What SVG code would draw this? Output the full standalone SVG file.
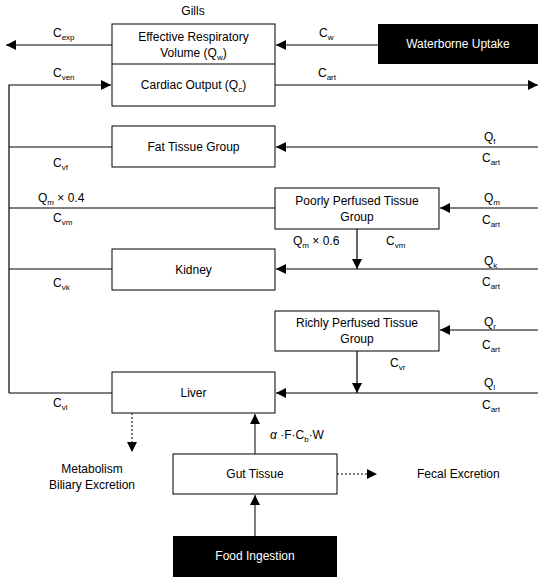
<svg xmlns="http://www.w3.org/2000/svg" width="538" height="579" viewBox="0 0 538 579">
<style>
text{font-family:"Liberation Sans",Arial,sans-serif;font-size:12px;fill:#000}
.c{text-anchor:middle}
.s{font-size:8px}
.w{fill:#fff}
.box{fill:#fff;stroke:#000;stroke-width:1}
.blk{fill:#000}
.ln{fill:none;stroke:#000;stroke-width:1.2}
.gr{fill:none;stroke:#555;stroke-width:1.5}
.dt{fill:none;stroke:#000;stroke-width:1;stroke-dasharray:2,2}
</style>
<defs>
<marker id="ah" viewBox="0 0 10 10" refX="10" refY="5" markerWidth="10" markerHeight="10" markerUnits="userSpaceOnUse" orient="auto">
<path d="M0,0 L10,5 L0,10 z" fill="#000"/>
</marker>
</defs>

<g id="connectors">
<line class="ln" x1="112" y1="45" x2="6" y2="45" marker-end="url(#ah)"/>
<line class="ln" x1="378" y1="45" x2="276" y2="45" marker-end="url(#ah)"/>
<polyline class="ln" points="9,393 9,85 111,85" marker-end="url(#ah)"/>
<line class="ln" x1="275" y1="85" x2="538" y2="85" marker-end="url(#ah)"/>
<line class="ln" x1="9" y1="147" x2="112" y2="147"/>
<line class="ln" x1="538" y1="147" x2="276" y2="147" marker-end="url(#ah)"/>
<line class="ln" x1="9" y1="208" x2="275" y2="208"/>
<line class="ln" x1="538" y1="208" x2="440" y2="208" marker-end="url(#ah)"/>
<line class="ln" x1="357" y1="229" x2="357" y2="269" marker-end="url(#ah)"/>
<line class="ln" x1="9" y1="269" x2="112" y2="269"/>
<line class="ln" x1="538" y1="269" x2="276" y2="269" marker-end="url(#ah)"/>
<line class="ln" x1="538" y1="330" x2="440" y2="330" marker-end="url(#ah)"/>
<line class="ln" x1="357" y1="351" x2="357" y2="393" marker-end="url(#ah)"/>
<line class="ln" x1="9" y1="393" x2="112" y2="393"/>
<line class="ln" x1="538" y1="393" x2="276" y2="393" marker-end="url(#ah)"/>
<line class="dt" x1="132" y1="413" x2="132" y2="452" marker-end="url(#ah)"/>
<line class="gr" x1="255" y1="454" x2="255" y2="414" marker-end="url(#ah)"/>
<line class="gr" x1="255" y1="536" x2="255" y2="495" marker-end="url(#ah)"/>
<line class="dt" x1="337" y1="474" x2="377" y2="474" marker-end="url(#ah)"/>
</g>

<g id="labels">
<text x="193" y="15" class="c">Gills</text>
<text x="53" y="37">C<tspan class="s" dy="3">exp</tspan></text>
<text x="53" y="77">C<tspan class="s" dy="3">ven</tspan></text>
<text x="319" y="37">C<tspan class="s" dy="3">w</tspan></text>
<text x="318" y="77">C<tspan class="s" dy="3">art</tspan></text>
<text x="53" y="167">C<tspan class="s" dy="3">vf</tspan></text>
<text x="38" y="202">Q<tspan class="s" dy="3">m</tspan><tspan dy="-3"> × 0.4</tspan></text>
<text x="53" y="222">C<tspan class="s" dy="3">vm</tspan></text>
<text x="53" y="287">C<tspan class="s" dy="3">vk</tspan></text>
<text x="53" y="407">C<tspan class="s" dy="3">vl</tspan></text>
<text x="484" y="141">Q<tspan class="s" dy="3">f</tspan></text>
<text x="482" y="162">C<tspan class="s" dy="3">art</tspan></text>
<text x="484" y="202">Q<tspan class="s" dy="3">m</tspan></text>
<text x="482" y="224">C<tspan class="s" dy="3">art</tspan></text>
<text x="293" y="245">Q<tspan class="s" dy="3">m</tspan><tspan dy="-3"> × 0.6</tspan></text>
<text x="386" y="245">C<tspan class="s" dy="3">vm</tspan></text>
<text x="484" y="265">Q<tspan class="s" dy="3">k</tspan></text>
<text x="482" y="286">C<tspan class="s" dy="3">art</tspan></text>
<text x="484" y="326">Q<tspan class="s" dy="3">r</tspan></text>
<text x="482" y="349">C<tspan class="s" dy="3">art</tspan></text>
<text x="390" y="367">C<tspan class="s" dy="3">vr</tspan></text>
<text x="484" y="387">Q<tspan class="s" dy="3">l</tspan></text>
<text x="482" y="409">C<tspan class="s" dy="3">art</tspan></text>
<text x="270" y="439"><tspan font-style="italic">α</tspan> ·F·C<tspan class="s" dy="3">b</tspan><tspan dy="-3">·W</tspan></text>
<text x="92" y="473" class="c">Metabolism</text>
<text x="92" y="489" class="c">Biliary Excretion</text>
<text x="417" y="478">Fecal Excretion</text>
</g>

<g id="gills">
<rect class="box" x="112" y="24" width="163" height="82"/>
<line class="ln" x1="112" y1="64" x2="275" y2="64"/>
<text x="193.5" y="41" class="c">Effective Respiratory</text>
<text x="193.5" y="57" class="c">Volume (Q<tspan class="s" dy="3">w</tspan><tspan dy="-3">)</tspan></text>
<text x="193.5" y="89" class="c">Cardiac Output (Q<tspan class="s" dy="3">c</tspan><tspan dy="-3">)</tspan></text>
</g>
<g id="waterborne">
<rect class="blk" x="378" y="24" width="160" height="40"/>
<text x="458" y="48" class="c w">Waterborne Uptake</text>
</g>
<g id="fat">
<rect class="box" x="112" y="126" width="163" height="41"/>
<text x="193.5" y="151" class="c">Fat Tissue Group</text>
</g>
<g id="poorly">
<rect class="box" x="275" y="188" width="164" height="41"/>
<text x="357" y="205" class="c">Poorly Perfused Tissue</text>
<text x="357" y="221" class="c">Group</text>
</g>
<g id="kidney">
<rect class="box" x="112" y="249" width="163" height="41"/>
<text x="193.5" y="274" class="c">Kidney</text>
</g>
<g id="richly">
<rect class="box" x="275" y="311" width="164" height="40"/>
<text x="357" y="327" class="c">Richly Perfused Tissue</text>
<text x="357" y="343" class="c">Group</text>
</g>
<g id="liver">
<rect class="box" x="112" y="372" width="163" height="41"/>
<text x="193.5" y="397" class="c">Liver</text>
</g>
<g id="gut">
<rect class="box" x="173" y="454" width="164" height="40"/>
<text x="255" y="478" class="c">Gut Tissue</text>
</g>
<g id="food">
<rect class="blk" x="173" y="536" width="164" height="41"/>
<text x="255" y="560" class="c w">Food Ingestion</text>
</g>
</svg>
